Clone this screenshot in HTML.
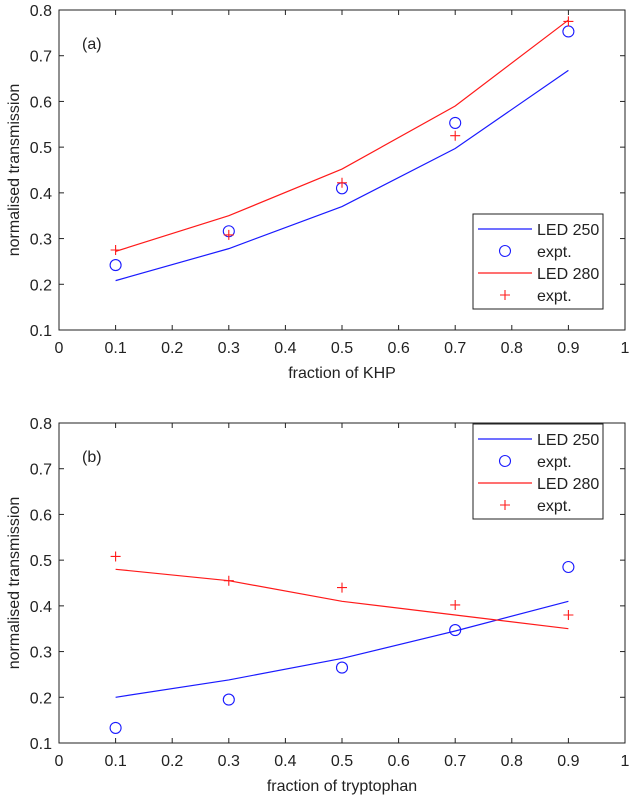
<!DOCTYPE html>
<html><head><meta charset="utf-8"><style>
body{margin:0;background:#fff;}
svg text{font-family:"Liberation Sans",sans-serif;fill:#222;}
</style></head><body>
<svg id="c" width="629" height="799" xmlns="http://www.w3.org/2000/svg"></svg>
<script>
const xVals=[0.1,0.3,0.5,0.7,0.9];
const aLed250=[0.208,0.278,0.37,0.497,0.668];
const aExpt250=[0.242,0.316,0.41,0.553,0.753];
const aLed280=[0.272,0.35,0.452,0.59,0.778];
const aExpt280=[0.275,0.308,0.422,0.525,0.775];
const bLed250=[0.2,0.238,0.285,0.345,0.41];
const bExpt250=[0.133,0.195,0.265,0.347,0.485];
const bLed280=[0.48,0.455,0.41,0.38,0.35];
const bExpt280=[0.508,0.455,0.44,0.402,0.38];
const xTicks=[0,0.1,0.2,0.3,0.4,0.5,0.6,0.7,0.8,0.9,1];
const yTicks=[0.1,0.2,0.3,0.4,0.5,0.6,0.7,0.8];
const NS="http://www.w3.org/2000/svg";
const svg=document.getElementById('c');
function mk(t,a,p){const e=document.createElementNS(NS,t);for(const k in a)e.setAttribute(k,a[k]);(p||svg).appendChild(e);return e;}
function panel(top,tag,xl,d,leg){
 const L=59,R=625,T=top,B=top+320;
 const sx=v=>L+(R-L)*v, sy=v=>B-(B-T)*(v-0.1)/0.7;
 const g=mk('g',{});
 
 
 mk('rect',{x:L,y:T,width:R-L,height:B-T,fill:'none',stroke:'#222','stroke-width':1},g);
 xTicks.forEach(v=>{const x=sx(v);mk('line',{x1:x,y1:B,x2:x,y2:B-5,stroke:'#222'},g);mk('line',{x1:x,y1:T,x2:x,y2:T+5,stroke:'#222'},g);
  const t=mk('text',{x:x,y:B+23,'text-anchor':'middle','font-size':16},g);t.textContent=String(v);});
 yTicks.forEach(v=>{const y=sy(v);mk('line',{x1:L,y1:y,x2:L+5,y2:y,stroke:'#222'},g);mk('line',{x1:R,y1:y,x2:R-5,y2:y,stroke:'#222'},g);
  const t=mk('text',{x:L-7,y:y+6,'text-anchor':'end','font-size':16},g);t.textContent=v.toFixed(1);});
 let t=mk('text',{x:(L+R)/2,y:B+48,'text-anchor':'middle','font-size':16},g);t.textContent=xl;
 
 t=mk('text',{x:0,y:0,'text-anchor':'middle','font-size':16,transform:`translate(19,${(T+B)/2}) rotate(-90)`},g);t.textContent='normalised transmission';
 
 t=mk('text',{x:82,y:T+39,'font-size':16},g);t.textContent='('+tag+')';
 
 const line=(arr,c,n)=>{const p=mk('polyline',{points:arr.map((v,i)=>sx(xVals[i])+','+sy(v)).join(' '),fill:'none',stroke:c,'stroke-width':1.2},g);};
 const circ=(arr,n)=>arr.forEach((v,i)=>{const e=mk('circle',{cx:sx(xVals[i]),cy:sy(v),r:5.5,fill:'none',stroke:'#1a1aff','stroke-width':1.1},g);});
 const plus=(arr,n)=>arr.forEach((v,i)=>{const x=sx(xVals[i]),y=sy(v);const e=mk('path',{d:`M${x-5},${y}H${x+5}M${x},${y-5}V${y+5}`,stroke:'#ff1a1a','stroke-width':1.1},g);});
 line(d[0],'#1a1aff','led250-line');circ(d[1],'led250-expt-point');line(d[2],'#ff1a1a','led280-line');plus(d[3],'led280-expt-point');
 const lg=mk('g',{},g);
 mk('rect',{x:473,y:leg,width:130,height:95,fill:'#fff',stroke:'#222'},lg);
 const items=[['LED 250','l','#1a1aff'],['expt.','o','#1a1aff'],['LED 280','l','#ff1a1a'],['expt.','+','#ff1a1a']];
 items.forEach((it,i)=>{const y=leg+15+i*22;
  if(it[1]=='l')mk('line',{x1:478,y1:y,x2:532,y2:y,stroke:it[2],'stroke-width':1.2},lg);
  else if(it[1]=='o')mk('circle',{cx:505,cy:y,r:5.5,fill:'none',stroke:it[2],'stroke-width':1.1},lg);
  else mk('path',{d:`M500,${y}H510M505,${y-5}V${y+5}`,stroke:it[2],'stroke-width':1.1},lg);
  const tt=mk('text',{x:537,y:y+6,'font-size':16},lg);tt.textContent=it[0];
  });
}
panel(10,'a','fraction of KHP',[aLed250,aExpt250,aLed280,aExpt280],214);
panel(423,'b','fraction of tryptophan',[bLed250,bExpt250,bLed280,bExpt280],424);
</script>
</body></html>
